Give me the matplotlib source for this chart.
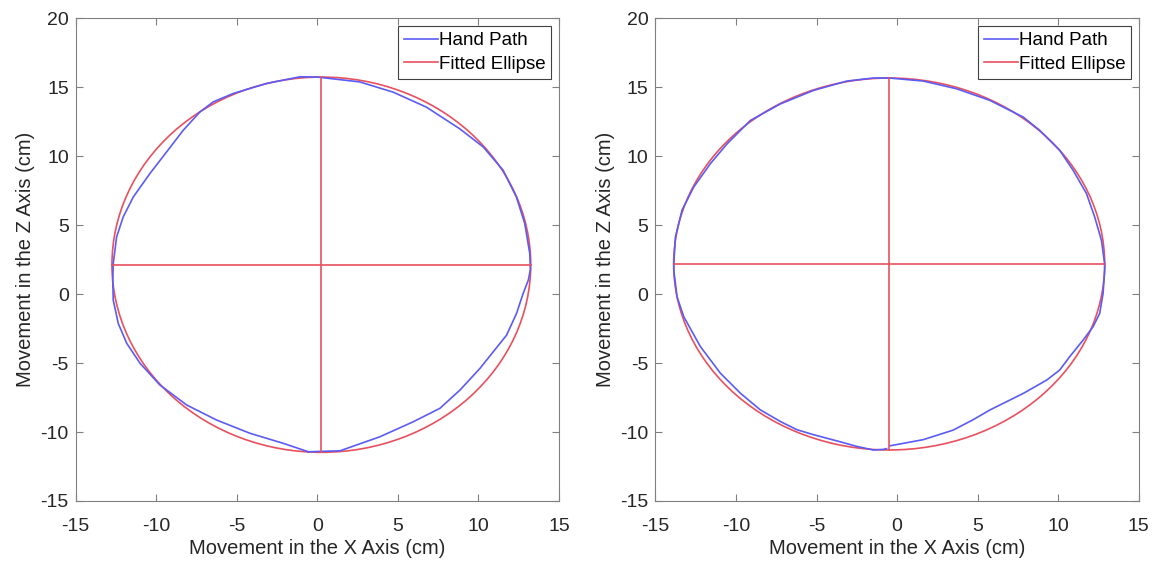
import numpy as np
import matplotlib.pyplot as plt
from matplotlib.patches import Ellipse

plt.rcParams['font.family'] = ['Liberation Sans', 'DejaVu Sans']
plt.rcParams['axes.unicode_minus'] = False

# Hand path, left trial (cm)
left_x = [-0.56, 1.41, 3.89, 5.96, 7.61, 8.86, 10.1, 10.92, 11.75, 12.37, 12.78, 13.1,
          13.23, 13.19, 12.88, 12.36, 11.53, 10.3, 8.84, 6.77, 4.7, 2.63, 0.0,
          -1.08, -3.14, -5.22, -6.46, -7.28, -8.32, -9.35, -10.39, -11.42, -12.05, -12.46, -12.67,
          -12.7, -12.67, -12.36, -11.83, -11.0, -9.77, -8.11, -6.25, -4.18, -2.11, -0.56]
left_z = [-11.43, -11.36, -10.34, -9.25, -8.28, -6.95, -5.38, -4.18, -2.97, -1.39, 0.06, 1.02,
          1.8, 2.95, 5.12, 7.05, 9.0, 10.68, 12.0, 13.57, 14.66, 15.4, 15.75,
          15.77, 15.29, 14.56, 13.95, 13.23, 11.9, 10.33, 8.76, 7.06, 5.61, 4.16, 2.23,
          1.02, -0.43, -2.12, -3.57, -5.02, -6.59, -8.04, -9.13, -10.09, -10.82, -11.43]

# Hand path, right trial (cm)
right_x = [-0.45, 1.63, 3.48, 4.73, 5.76, 7.83, 9.29, 10.1, 10.72, 11.55, 12.17, 12.58, 12.79, 12.89,
           12.89, 12.69, 12.27, 11.76, 10.93, 10.1, 8.86, 7.83, 5.76, 3.7, 1.63, -0.48,
           -1.47, -3.12, -5.19, -7.25, -9.11, -10.56, -11.59, -12.62, -13.35, -13.76, -13.86,
           -13.86, -13.66, -13.24, -12.21, -10.97, -9.73, -8.49, -7.25, -6.22, -5.19, -3.55,
           -2.5, -1.48, -0.86, -0.65]
right_z = [-11.0, -10.55, -9.86, -9.1, -8.4, -7.2, -6.23, -5.5, -4.53, -3.33, -2.36, -1.4, 0.05, 1.73,
           2.2, 3.9, 5.6, 7.3, 8.99, 10.43, 11.88, 12.85, 14.06, 14.9, 15.46, 15.68,
           15.68, 15.46, 14.78, 13.8, 12.6, 10.9, 9.47, 7.78, 6.1, 4.15, 2.2,
           1.73, -0.19, -1.64, -3.8, -5.73, -7.18, -8.39, -9.23, -9.83, -10.19, -10.7,
           -11.04, -11.3, -11.26, -11.2]

# Fitted ellipse parameters: centre x, centre z, semi-axis x, semi-axis z
left_fit = (0.25, 2.14, 13.0, 13.61)
right_fit = (-0.49, 2.19, 13.38, 13.49)

blue = '#5b5bf5'
red = '#e8505e'

fig = plt.figure(figsize=(11.56, 5.65), dpi=100)
ax1 = fig.add_axes([0.0655, 0.1133, 0.418, 0.854])
ax2 = fig.add_axes([0.567, 0.1133, 0.418, 0.854])

for ax, hx, hz, fit in [(ax1, left_x, left_z, left_fit), (ax2, right_x, right_z, right_fit)]:
    cx, cz, a, b = fit
    ax.plot(hx, hz, color=blue, lw=1.2, label='Hand Path')
    ax.plot([], [], color=red, lw=1.2, label='Fitted Ellipse')
    ax.add_patch(Ellipse((cx, cz), 2 * a, 2 * b, fill=False, edgecolor=red, lw=1.2))
    ax.plot([cx - a, cx + a], [cz, cz], color=red, lw=1.2)
    ax.plot([cx, cx], [cz - b, cz + b], color=red, lw=1.2)

    ax.set_xlim(-15, 15)
    ax.set_ylim(-15, 20)
    ax.set_xticks(np.arange(-15, 16, 5))
    ax.set_yticks(np.arange(-15, 21, 5))
    ax.tick_params(direction='in', top=True, right=True, labelsize=14,
                   colors='#808080', labelcolor='#262626', length=5, width=0.8)
    ax.tick_params(axis='x', pad=12)
    ax.tick_params(axis='y', pad=5)
    for s in ax.spines.values():
        s.set_color('#808080')
        s.set_linewidth(0.8)
    ax.set_xlabel('Movement in the X Axis (cm)', fontsize=14.5, color='#262626', labelpad=3)
    ax.set_ylabel('Movement in the Z Axis (cm)', fontsize=14.5, color='#262626', labelpad=4)
    leg = ax.legend(loc='upper right', fontsize=13.5, fancybox=False, framealpha=1,
                    handlelength=1.8, handletextpad=0.05, borderpad=0.32,
                    labelspacing=0.35, borderaxespad=0.4)
    leg.get_frame().set_edgecolor('#404040')
    leg.get_frame().set_linewidth(0.8)

fig.savefig('out.png', dpi=100)
